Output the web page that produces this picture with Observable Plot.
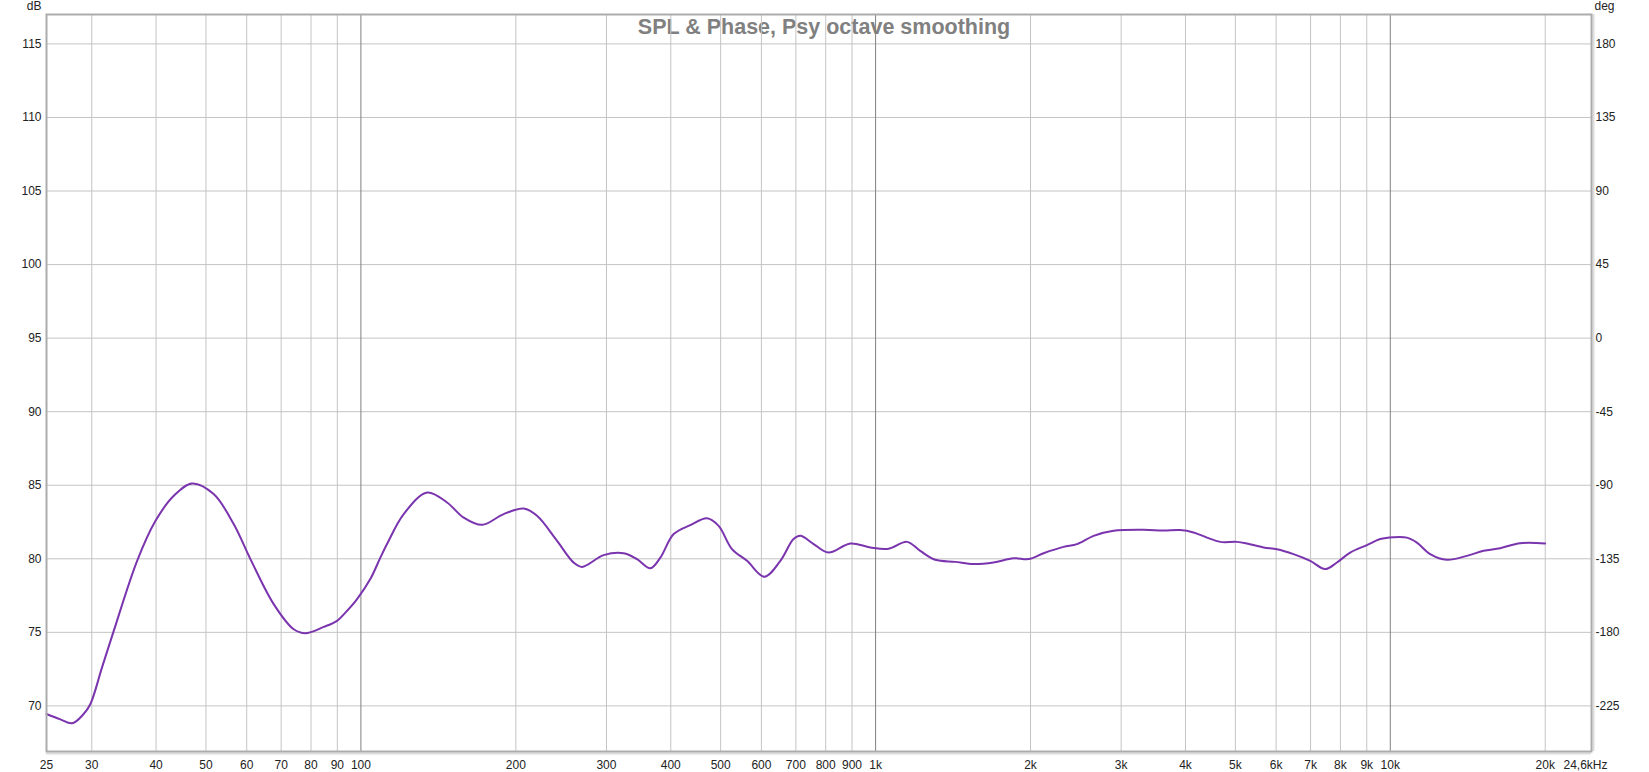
<!DOCTYPE html>
<html><head><meta charset="utf-8">
<script src="https://cdn.jsdelivr.net/npm/d3@7"></script>
<script src="https://cdn.jsdelivr.net/npm/@observablehq/plot@0.6"></script>
<style>body{margin:0;background:#fff;} svg{display:block}</style>
</head><body><div id="chart"></div>
<script>
const title = "SPL & Phase, Psy octave smoothing";
const freqHz = [24.5, 26.0, 27.5, 28.9, 29.8, 31.4, 33.1, 36.75, 39.9, 43.3, 47.0, 51.75, 56.6, 61.0, 67.7, 74.05, 78.0, 84.7, 89.9, 93.3, 98.3,
  104.3, 109.1, 112.4, 121.1, 134.5, 147.0, 158.4, 172.0, 189.4, 207.2, 219.9, 240.5, 259.1, 269, 296.2, 323.9, 344, 365.1, 381.8, 405.2, 436.6, 470.3, 495.5,
  526, 562.6, 608, 653.1, 692.8, 714.1, 757.9, 810.3, 893.2, 977, 1060, 1151, 1221, 1306, 1428, 1550, 1695, 1854, 1983, 2120, 2318, 2462, 2652, 2900,
  3316, 3626, 3907, 4147, 4404, 4673, 5036, 5267, 5672, 6022, 6486, 6989, 7474, 7876, 8357, 9007, 9559, 10144, 10771, 11264, 11953, 12880, 14087,
  15177, 16350, 17880, 19990];
const splDb = [69.45, 69.1, 68.82, 69.43, 70.11, 72.6, 75.1, 79.86, 82.58, 84.28, 85.12, 84.4, 82.36, 79.98, 76.92, 75.21, 74.94, 75.37, 75.78, 76.34, 77.26,
  78.62, 80.08, 81.0, 83.04, 84.51, 83.83, 82.8, 82.31, 83.04, 83.42, 82.92, 81.22, 79.74, 79.45, 80.25, 80.38, 79.98, 79.36, 80.08, 81.68, 82.29, 82.76, 82.24,
  80.66, 79.86, 78.78, 79.86, 81.34, 81.56, 81.0, 80.42, 81.04, 80.77, 80.68, 81.15, 80.54, 79.93, 79.79, 79.64, 79.75, 80.04, 79.98, 80.38, 80.81, 81.0, 81.56, 81.9,
  81.97, 81.92, 81.95, 81.79, 81.44, 81.15, 81.15, 81.04, 80.77, 80.65, 80.32, 79.86, 79.3, 79.75, 80.42, 80.93, 81.34, 81.47, 81.44, 81.1, 80.32, 79.93, 80.2,
  80.54, 80.72, 81.06, 81.04];

const xMinorGrid = [30,40,50,60,70,80,90,200,300,400,500,600,700,800,900,2000,3000,4000,5000,6000,7000,8000,9000,20000];
const xDecadeGrid = [100,1000,10000];
const xTickValues = [24.5,30,40,50,60,70,80,90,100,200,300,400,500,600,700,800,900,1000,2000,3000,4000,5000,6000,7000,8000,9000,10000,20000];
const xTickLabels = ["25","30","40","50","60","70","80","90","100","200","300","400","500","600","700","800","900","1k","2k","3k","4k","5k","6k","7k","8k","9k","10k","20k"];
const xEndValue = 24600;
const xEndLabel = "24,6kHz";
const yTicks = [70,75,80,85,90,95,100,105,110,115];
const phaseTicks = [180,135,90,45,0,-45,-90,-135,-180,-225];
const yUnit = "dB";
const phaseUnit = "deg";

const data = freqHz.map((f, i) => ({f, db: splDb[i]}));
const font = "'Liberation Sans', Arial, sans-serif";
const labelColor = "#222";

const chart = Plot.plot({
  width: 1649, height: 772,
  marginLeft: 46, marginRight: 58, marginTop: 14, marginBottom: 21,
  x: {type: "log", domain: [24.5, 24600], axis: null},
  y: {domain: [66.9, 117], axis: null},
  style: {fontFamily: font, fontSize: "12px", background: "#fff", overflow: "visible"},
  marks: [
    Plot.text([title], {frameAnchor: "top", lineAnchor: "bottom", dy: 19, dx: 5, fontWeight: "bold", fontSize: 21.5, fill: "#808080"}),
    Plot.gridY(yTicks, {stroke: "#c4c4c4", strokeOpacity: 1}),
    Plot.gridX(xMinorGrid, {stroke: "#c4c4c4", strokeOpacity: 1}),
    Plot.gridX(xDecadeGrid, {stroke: "#808080", strokeOpacity: 1}),
    Plot.line(data, {x: "f", y: "db", stroke: "#7a34ae", strokeWidth: 2, curve: "catmull-rom"}),
    Plot.ruleX([24600], {dx: 2, stroke: "#dcdcdc", strokeWidth: 2}),
    Plot.ruleY([66.9], {dy: 2, stroke: "#dcdcdc", strokeWidth: 2}),
    Plot.frame({stroke: "#acacac", strokeWidth: 2}),
    Plot.text(xTickValues, {x: d => d, text: (d, i) => xTickLabels[i], frameAnchor: "bottom", lineAnchor: "bottom", dy: 17, fill: labelColor}),
    Plot.text([xEndValue], {x: d => d, text: () => xEndLabel, frameAnchor: "bottom", lineAnchor: "bottom", dy: 17, dx: -6, fill: labelColor}),
    Plot.text(yTicks, {y: d => d, text: d => String(d), frameAnchor: "left", textAnchor: "end", lineAnchor: "middle", dx: -5, fill: labelColor}),
    Plot.text(phaseTicks, {y: d => 95 + d / 9, text: d => String(d), frameAnchor: "right", textAnchor: "start", lineAnchor: "middle", dx: 4, fill: labelColor}),
    Plot.text([yUnit], {frameAnchor: "top-left", textAnchor: "end", lineAnchor: "bottom", dx: -5, dy: -5, fill: labelColor}),
    Plot.text([phaseUnit], {frameAnchor: "top-right", textAnchor: "start", lineAnchor: "bottom", dx: 3, dy: -5, fill: labelColor})
  ]
});
document.getElementById("chart").appendChild(chart);
</script>
</body></html>
